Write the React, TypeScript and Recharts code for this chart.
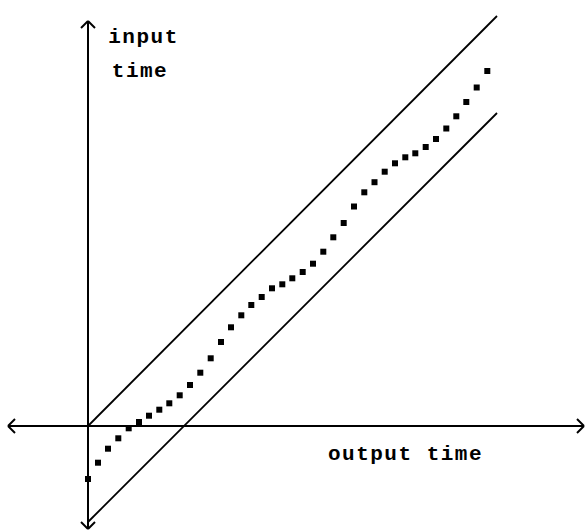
import { ScatterChart, Scatter, XAxis, YAxis, ReferenceLine, ReferenceDot } from 'recharts'

// values, x = output time, y = input time
const outputTime = [0, 10, 20, 30.3, 40.7, 51, 61, 71.3, 81.3, 91.7, 102, 112.3, 122.7, 133, 143, 153.3, 163.3, 173.7, 184, 194.3, 204.3, 214.7, 225, 235.3, 245.3, 255.7, 266, 276.3, 286.5, 296.7, 307, 317.3, 327.3, 337.7, 348, 358.3, 368.3, 378.3, 388.7, 399.3]
const inputTime = [-53, -36.7, -22.7, -12.3, -2.3, 4, 10.3, 16.3, 22.7, 30.7, 41, 53.3, 67.7, 84, 98.7, 110.7, 121, 129, 137.7, 141.7, 147.7, 154, 162.3, 174.3, 188.7, 203, 219.5, 233.7, 243.8, 254.3, 262.7, 268.7, 272.7, 279, 287, 297.5, 309.7, 324, 338.5, 355]

// bounding lines: upper y = x, lower y = x - 96
const boundEnd = 409
const upperBound = [0, 410]
const lowerBound = [-96, 313]

const xAxisEnds = [-80, 496]
const yAxisEnds = [-103, 405]
const arrow = 7

const pts = outputTime.map((x, i) => ({ x, y: inputTime[i] }))

const font = { fontFamily: "'Liberation Mono', 'Courier New', monospace", fontWeight: 'bold', fontSize: 21, letterSpacing: 1.5, fill: '#000' }

const Square = (p: any) => <rect x={p.cx - 3} y={p.cy - 3} width={6} height={6} fill="#000" />

const txt = (value: string) => (props: any) => {
  const vb = props.viewBox
  return <text x={vb.x + vb.width / 2} y={vb.y + vb.height / 2} dy="0.35em" textAnchor="middle" style={font}>{value}</text>
}

const seg = (a: [number, number], b: [number, number], w = 2) => (
  <ReferenceLine segment={[{ x: a[0], y: a[1] }, { x: b[0], y: b[1] }]} stroke="#000" strokeWidth={w} ifOverflow="visible" />
)

export default function App() {
  const [xl, xr] = xAxisEnds
  const [yb, yt] = yAxisEnds
  return (
    <div style={{ position: 'absolute', left: 0, top: 0, background: '#fff' }}>
      <ScatterChart width={586} height={531} margin={{ top: 0, right: 0, bottom: 0, left: 0 }}>
        <XAxis type="number" dataKey="x" domain={[-88, 498]} hide allowDataOverflow />
        <YAxis type="number" dataKey="y" domain={[-105, 426]} hide allowDataOverflow />
        {seg([xl, 0], [xr, 0])}
        {seg([xr - arrow, arrow], [xr, 0])}
        {seg([xr - arrow, -arrow], [xr, 0])}
        {seg([xl + arrow, arrow], [xl, 0])}
        {seg([xl + arrow, -arrow], [xl, 0])}
        {seg([0, yb], [0, yt])}
        {seg([-arrow, yt - arrow], [0, yt])}
        {seg([arrow, yt - arrow], [0, yt])}
        {seg([-arrow, yb + arrow], [0, yb])}
        {seg([arrow, yb + arrow], [0, yb])}
        {seg([0, upperBound[0]], [boundEnd, upperBound[1]], 1.8)}
        {seg([0, lowerBound[0]], [boundEnd, lowerBound[1]], 1.8)}
        <Scatter data={pts} shape={Square} isAnimationActive={false} />
        <ReferenceDot x={55.5} y={390} r={0} stroke="none" label={{ content: txt('input') }} />
        <ReferenceDot x={52} y={356} r={0} stroke="none" label={{ content: txt('time') }} />
        <ReferenceDot x={317.5} y={-27} r={0} stroke="none" label={{ content: txt('output time') }} />
      </ScatterChart>
    </div>
  )
}
